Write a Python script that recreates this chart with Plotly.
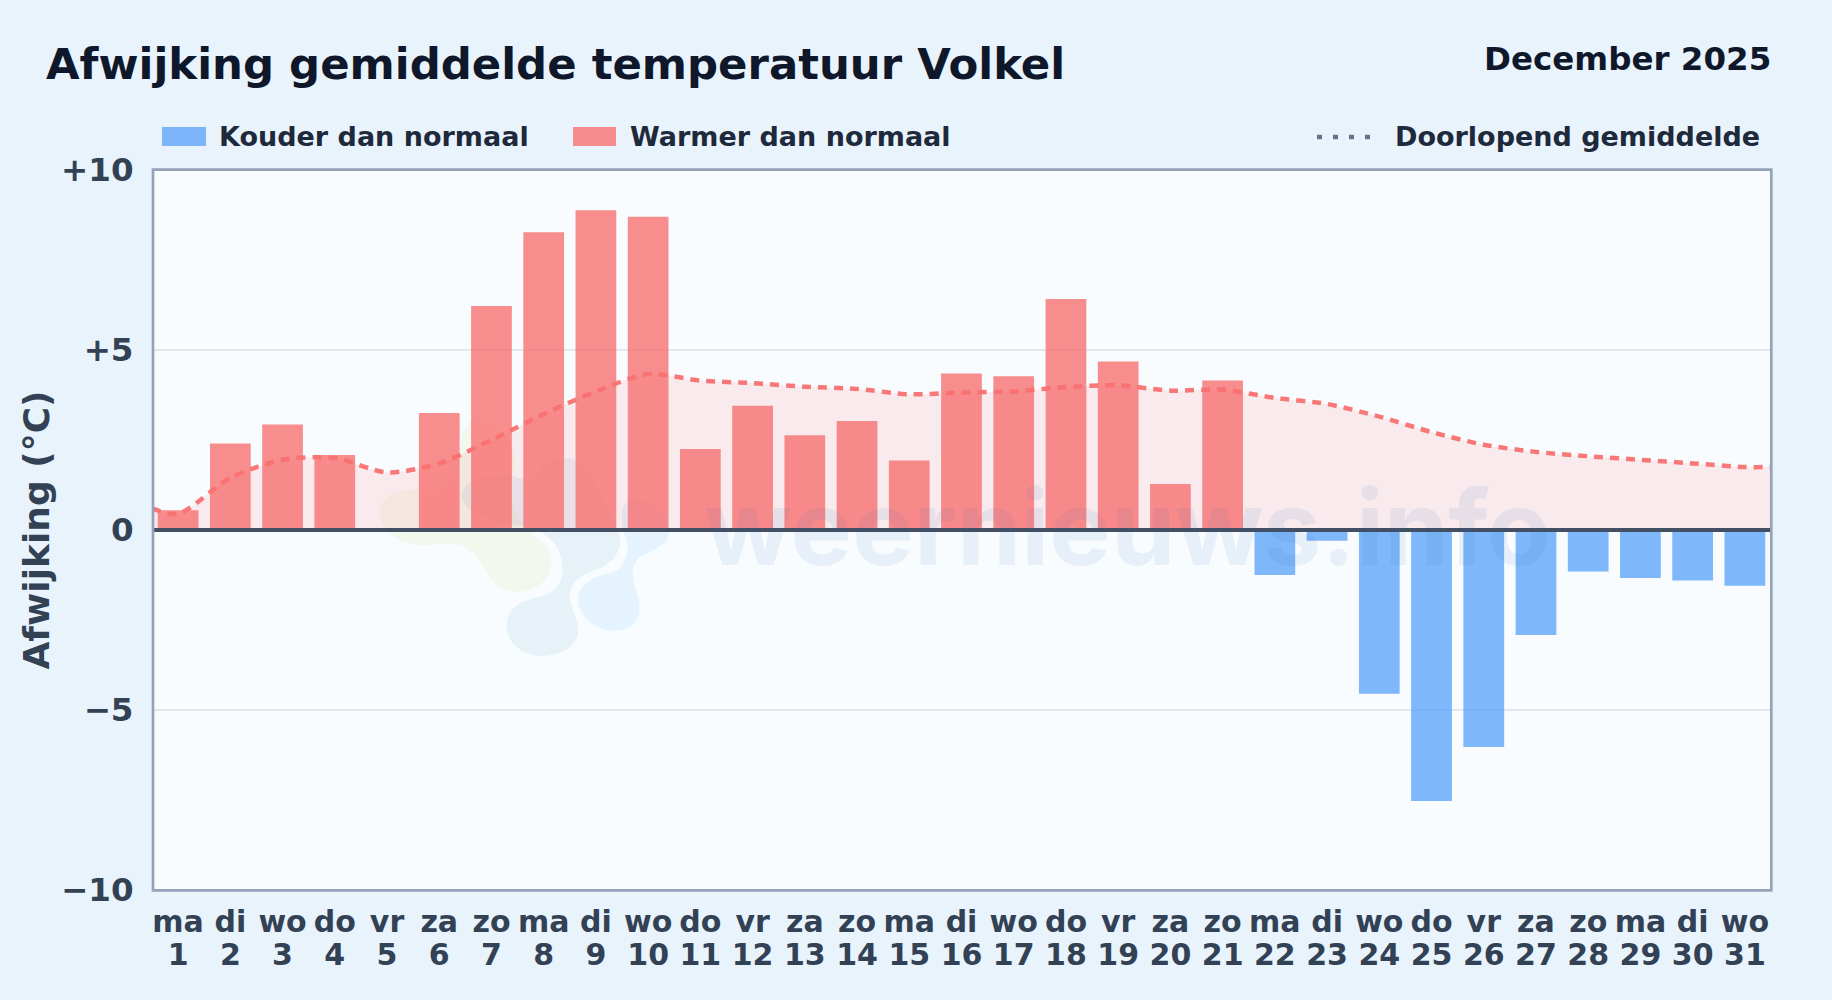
import plotly.graph_objects as go

days = list(range(1, 32))
weekdays = ["ma","di","wo","do","vr","za","zo"] * 4 + ["ma","di","wo"]
deviation = [0.55, 2.4, 2.93, 2.08, 0.0, 3.25, 6.22, 8.27, 8.88, 8.7,
             2.25, 3.45, 2.63, 3.03, 1.93, 4.35, 4.27, 6.42, 4.68, 1.28,
             4.15, -1.25, -0.3, -4.55, -7.53, -6.03, -2.92, -1.15, -1.33, -1.4, -1.55]
mean_x = [0.5] + days + [31.5]
mean_y = [0.6, 0.45, 1.45, 1.95, 2.0, 1.6, 1.85, 2.5, 3.22, 3.85, 4.33,
          4.15, 4.08, 3.98, 3.92, 3.77, 3.82, 3.85, 3.97, 4.02, 3.87,
          3.9, 3.67, 3.5, 3.15, 2.72, 2.37, 2.17, 2.05, 1.95, 1.85, 1.75, 1.75]
y_ticks = [-10, -5, 0, 5, 10]
y_labels = ["−10", "−5", "0", "+5", "+10"]

W, H = 1832, 1000
L, R, T, B = 152, 1771, 170, 890
FONT = "DejaVu Sans"
BLUE = "rgba(96,165,250,0.8)"
RED = "rgba(248,113,113,0.8)"
TXT = "#334155"

def px(x): return (x - L) / (R - L)
def py(y): return (B - y) / (B - T)

def logo_path(segments):
    # logo outline, written in zoom-crop pixels, converted to paper fractions
    out = []
    for cmd, pts in segments:
        c = " ".join(f"{px(370 + a / 3):.4f},{py(400 + b / 3):.4f}" for a, b in pts)
        out.append(f"{cmd}{c}")
    return " ".join(out) + " Z"

blob_yellow = [("M", [(30,340)]),
    ("C", [(30,280),(110,260),(170,270)]), ("C", [(220,275),(260,230),(270,150)]),
    ("C", [(275,80),(300,45),(330,60)]), ("C", [(400,90),(450,150),(430,220)]),
    ("C", [(400,330),(480,400),(520,430)]), ("C", [(560,470),(550,540),(490,565)]),
    ("C", [(430,590),(370,570),(340,500)]), ("C", [(310,440),(260,425),(200,432)]),
    ("C", [(120,450),(30,410),(30,340)])]
blob_navy = [("M", [(410,680)]),
    ("C", [(410,620),(450,605),(510,590)]), ("C", [(570,575),(585,530),(575,480)]),
    ("C", [(565,430),(530,400),(470,375)]), ("C", [(400,385),(280,340),(275,290)]),
    ("C", [(275,240),(340,220),(400,225)]), ("C", [(450,225),(490,260),(500,230)]),
    ("C", [(505,190),(560,170),(600,175)]), ("C", [(650,180),(700,300),(740,385)]),
    ("C", [(770,440),(730,490),(690,505)]), ("C", [(640,520),(600,540),(600,590)]),
    ("C", [(600,620),(625,660),(625,690)]), ("C", [(625,740),(570,768),(515,768)]),
    ("C", [(460,768),(410,730),(410,680)])]
blob_sky = [("M", [(625,590)]),
    ("C", [(630,550),(670,530),(720,520)]), ("C", [(760,510),(780,470),(770,420)]),
    ("C", [(750,370),(745,320),(780,300)]), ("C", [(860,290),(905,370),(895,410)]),
    ("C", [(880,450),(830,450),(800,480)]), ("C", [(780,510),(790,550),(800,580)]),
    ("C", [(820,630),(810,692),(730,692)]), ("C", [(670,692),(620,640),(625,590)])]

shapes = [
    dict(type="path", xref="paper", yref="paper", layer="below", line_width=0,
         path=logo_path(blob_yellow), fillcolor="rgba(205,225,130,0.13)"),
    dict(type="path", xref="paper", yref="paper", layer="below", line_width=0,
         path=logo_path(blob_navy), fillcolor="rgba(37,110,170,0.08)"),
    dict(type="path", xref="paper", yref="paper", layer="below", line_width=0,
         path=logo_path(blob_sky), fillcolor="rgba(90,185,250,0.12)"),
    # zero line
    dict(type="line", xref="paper", yref="y", x0=0, x1=1, y0=0, y1=0, layer="above",
         line=dict(color="#434f63", width=4)),
    # plot frame
    dict(type="rect", xref="paper", yref="paper", x0=px(153), x1=px(1771.3), y0=py(890.4), y1=py(169.7),
         layer="above", fillcolor="rgba(0,0,0,0)", line=dict(color="#94a3b8", width=2.7)),
    # legend swatches
    dict(type="rect", xref="paper", yref="paper", x0=px(162), x1=px(206), y0=py(146), y1=py(127),
         fillcolor=BLUE, line_width=0),
    dict(type="rect", xref="paper", yref="paper", x0=px(573), x1=px(616), y0=py(146), y1=py(127),
         fillcolor=RED, line_width=0),
    dict(type="line", xref="paper", yref="paper", x0=px(1317), x1=px(1377), y0=py(137), y1=py(137),
         line=dict(color="#64748b", width=4.5, dash="5px,11px")),
]

def label(text, x, y, size, color, xanchor="left", **kw):
    return dict(text=text, xref="paper", yref="paper", x=px(x), y=py(y), xanchor=xanchor,
                yanchor="middle", showarrow=False, font=dict(family=FONT, size=size, color=color, weight="bold"), **kw)

annotations = [
    label("Afwijking gemiddelde temperatuur Volkel", 44, 64, 43.4, "#0f172a"),
    label("December 2025", 1773, 59, 32.5, "#0f172a", xanchor="right"),
    label("Kouder dan normaal", 217, 137, 27, "#1e293b"),
    label("Warmer dan normaal", 628, 137, 27, "#1e293b"),
    label("Doorlopend gemiddelde", 1393, 137, 27, "#1e293b"),
    dict(text="weernieuws.info", xref="paper", yref="paper", x=px(1127), y=py(527), xanchor="center",
         yanchor="middle", showarrow=False,
         font=dict(family="Inter", size=103.5, color="rgba(37,99,170,0.08)", weight=700)),
]

pos_x = [d for d, v in zip(days, deviation) if v > 0]
pos_y = [v for v in deviation if v > 0]
neg_x = [d for d, v in zip(days, deviation) if v < 0]
neg_y = [v for v in deviation if v < 0]

fig = go.Figure()
fig.add_trace(go.Scatter(x=mean_x, y=mean_y, mode="lines", line=dict(width=0, shape="spline", smoothing=0.8),
                         fill="tozeroy", fillcolor="rgba(248,113,113,0.13)", hoverinfo="skip", showlegend=False,
                         xaxis="x", yaxis="y"))
fig.add_trace(go.Bar(x=neg_x, y=neg_y, name="Kouder dan normaal", marker=dict(color=BLUE, line_width=0),
                     width=0.78, xaxis="x2", yaxis="y", showlegend=False))
fig.add_trace(go.Bar(x=pos_x, y=pos_y, name="Warmer dan normaal", marker=dict(color=RED, line_width=0),
                     width=0.78, xaxis="x2", yaxis="y", showlegend=False))
fig.add_trace(go.Scatter(x=mean_x, y=mean_y, mode="lines", name="Doorlopend gemiddelde",
                         line=dict(color="rgba(248,113,113,0.95)", width=4.5, shape="spline", smoothing=0.8,
                                   dash="9px,7px"),
                         xaxis="x2", yaxis="y", showlegend=False))

xfont = dict(family=FONT, size=30, color=TXT, weight="bold")
yfont = dict(family=FONT, size=32.5, color=TXT, weight="bold")
fig.update_layout(
    width=W, height=H, margin=dict(l=L, r=W - R, t=T, b=H - B, pad=0),
    paper_bgcolor="#e8f3fc", plot_bgcolor="#f8fcff",
    barmode="overlay", showlegend=False, shapes=shapes, annotations=annotations,
    xaxis=dict(range=[0.5, 31.5], tickvals=days, ticktext=[str(d) for d in days], tickfont=xfont,
               tickangle=0, ticks="outside", ticklen=38, tickcolor="rgba(0,0,0,0)", showgrid=False, zeroline=False,
               showline=False, anchor="y"),
    xaxis2=dict(range=[0.5, 31.5], overlaying="x", side="bottom", anchor="y", tickvals=days, ticktext=weekdays,
                tickfont=xfont, tickangle=0, ticks="outside", ticklen=5, tickcolor="rgba(0,0,0,0)",
                showgrid=False, zeroline=False, showline=False),
    yaxis=dict(range=[-10, 10], tickvals=y_ticks, ticktext=y_labels, tickfont=yfont, ticks="outside",
               ticklen=11, tickcolor="rgba(0,0,0,0)", gridcolor="#e2e8f0", gridwidth=1.5, zeroline=False,
               showline=False,
               title=dict(text="Afwijking (°C)", font=dict(family=FONT, size=36, color=TXT, weight="bold"), standoff=0)),
)
fig.write_html("out.html", config=dict(displayModeBar=False),
               post_script="document.body.style.margin='0';document.body.style.overflow='hidden';")
